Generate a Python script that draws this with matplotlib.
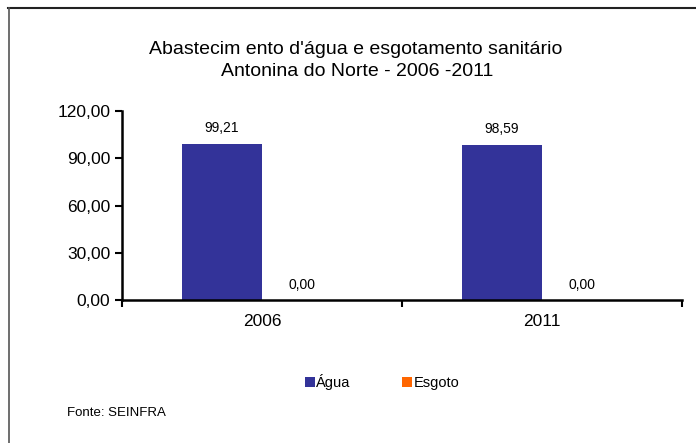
import numpy as np
import matplotlib
matplotlib.use("Agg")
import matplotlib.pyplot as plt
from matplotlib.lines import Line2D

plt.rcParams['font.family'] = ['Liberation Sans', 'DejaVu Sans']

# Data
anos = ['2006', '2011']
agua = [99.21, 98.59]
esgoto = [0.00, 0.00]
series = ['Água', 'Esgoto']
yticks = [0, 30, 60, 90, 120]

cor_agua = '#333399'
cor_esgoto = '#FF6600'

fig = plt.figure(figsize=(6.96, 4.43), dpi=100)
ax = fig.add_axes([122 / 696, 1 - 300 / 443, 560 / 696, 189 / 443])

x = np.arange(len(anos))
w = 0.286
b1 = ax.bar(x - w / 2, agua, w, color=cor_agua, label=series[0])
b2 = ax.bar(x + w / 2, esgoto, w, color=cor_esgoto, label=series[1])

fmt = lambda v: f'{v:.2f}'.replace('.', ',')
for bars in (b1, b2):
    for r in bars:
        ax.annotate(fmt(r.get_height()), (r.get_x() + r.get_width() / 2, r.get_height()),
                    xytext=(0, 6), textcoords='offset points', ha='center', va='bottom',
                    fontsize=10)

ax.set_xlim(-0.5, len(anos) - 0.5)
ax.set_ylim(0, 120)
ax.set_yticks(yticks)
ax.set_yticklabels([fmt(v) for v in yticks], fontsize=12.5)
ax.set_xticks(np.arange(len(anos) + 1) - 0.5)
ax.set_xticklabels([])
ax.set_xticks(x, minor=True)
ax.set_xticklabels(anos, minor=True, fontsize=12.5)
ax.tick_params(axis='x', which='minor', length=0, pad=10)
ax.tick_params(axis='x', which='major', direction='out', length=5, width=1.5)
ax.tick_params(axis='y', direction='out', length=5, width=1.5)
for s in ['top', 'right']:
    ax.spines[s].set_visible(False)
for s in ['left', 'bottom']:
    ax.spines[s].set_linewidth(1.8)

fig.text(356 / 696, 1 - 49 / 443, "Abastecim ento d'água e esgotamento sanitário",
         ha='center', va='center', fontsize=14)
fig.text(357 / 696, 1 - 71 / 443, "Antonina do Norte - 2006 -2011",
         ha='center', va='center', fontsize=14)

fig.legend(handles=[b1, b2], labels=series, loc='center', ncol=2, frameon=False,
           bbox_to_anchor=(382 / 696, 1 - 382 / 443), fontsize=10.5,
           handlelength=0.7, handleheight=0.7, handletextpad=0.1, columnspacing=3.5)

fig.text(67 / 696, 1 - 413 / 443, 'Fonte: SEINFRA', ha='left', va='center', fontsize=9.5)

# moldura
fig.add_artist(Line2D([8 / 696, 1], [1 - 8 / 443] * 2, color='#222222', lw=1.5))
fig.add_artist(Line2D([9 / 696] * 2, [0, 1 - 8 / 443], color='#555555', lw=1.2))

fig.savefig('out.png', dpi=100)
